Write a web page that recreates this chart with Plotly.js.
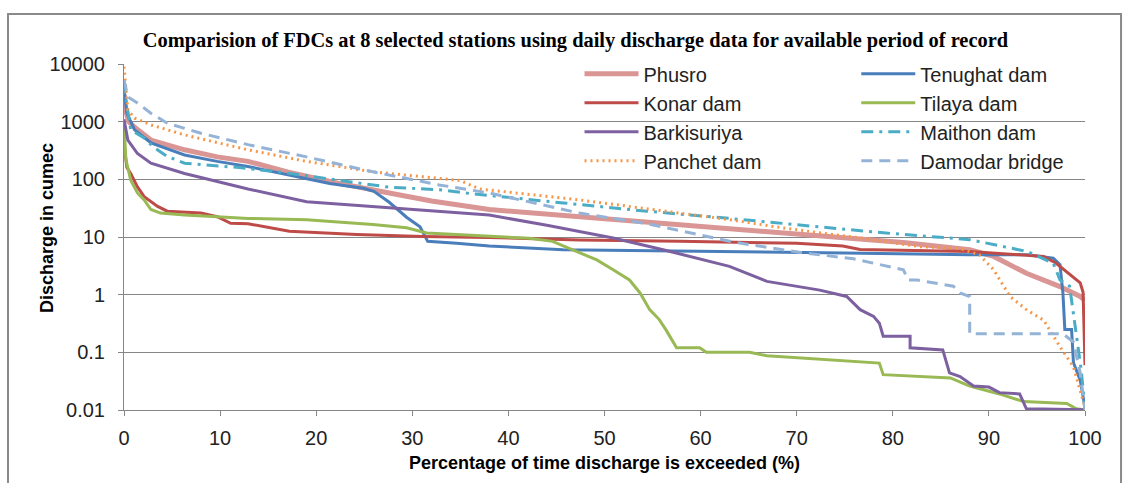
<!DOCTYPE html>
<html>
<head>
<meta charset="utf-8">
<script src="https://cdn.plot.ly/plotly-3.0.1.min.js"></script>
<style>html,body{margin:0;padding:0;background:#fff;}#chart{width:1135px;height:483px;}</style>
</head>
<body>
<div id="chart"></div>
<script>
// Percentage of time exceeded (x) and discharge in cumec (y)
const phusroX = [0, 0.2, 0.5, 1.1, 2.8, 6.3, 9.7, 12.9, 17, 22.4, 27.6, 32, 38, 47.4, 56.1, 63, 72.4, 81.1, 88, 90.5, 93.9, 97.4, 99.5, 100];
const phusroY = [3000, 1500, 1000, 800, 480, 325, 245, 205, 135, 85, 58, 42, 30, 22.4, 17.4, 14, 10.3, 8, 6, 4.6, 2.35, 1.38, 0.93, 0.8];

const tenughatX = [0, 0.3, 1.1, 2.8, 6.3, 9.7, 12.9, 16, 19, 21.4, 24.9, 26, 27.6, 29.4, 30.8, 31.4, 31.6, 34.6, 38, 45.7, 55, 63, 75, 88, 94, 96.7, 97.4, 97.7, 97.9, 98.6, 98.8, 99.5, 100];
const tenughatY = [3500, 1400, 720, 430, 265, 205, 167, 130, 104, 85, 70, 62, 40, 22, 15, 10, 8.4, 7.8, 7, 6, 5.8, 5.6, 5.3, 4.9, 4.9, 4.3, 3.3, 1.07, 0.25, 0.25, 0.066, 0.033, 0.011];

const konarX = [0, 0.3, 0.7, 1.4, 2.1, 3.5, 4.5, 8, 9.7, 11.1, 12.9, 17.2, 24.2, 31.1, 38, 47.4, 57.8, 63, 70, 74.8, 76.6, 88, 95.7, 97, 98.8, 99.5, 99.8, 100];
const konarY = [400, 160, 126, 74, 50, 34, 28, 26, 22.5, 17.3, 17, 12.6, 11, 10.2, 9.8, 8.9, 8.4, 8.2, 7.8, 7.0, 6.1, 5.6, 4.6, 3.5, 2.0, 1.6, 1.1, 0.06];

const tilayaX = [0, 0.2, 0.7, 1.4, 2.1, 2.8, 3.8, 6.3, 9.7, 12.9, 19, 25.9, 29.4, 31.5, 34.6, 38, 42.2, 44.6, 47.4, 49.2, 50.9, 52.6, 53.7, 54.7, 55.7, 56.4, 57.5, 59.9, 60.6, 65.1, 66.9, 70.3, 76.6, 78.6, 79, 86, 88, 91.1, 93.6, 98.1, 99.1, 100];
const tilayaY = [900, 220, 97, 58, 44, 30, 26, 24, 22.5, 21, 20, 16.5, 14.5, 11.7, 11, 10.2, 9.5, 8.4, 5.3, 4.0, 2.7, 1.8, 1.07, 0.55, 0.37, 0.245, 0.12, 0.12, 0.1, 0.1, 0.087, 0.08, 0.07, 0.065, 0.041, 0.036, 0.026, 0.019, 0.014, 0.013, 0.0105, 0.01];

const barkisuriyaX = [0, 0.4, 1.4, 2.8, 6.3, 9.7, 12.9, 19, 25.9, 32.8, 38, 44, 50.9, 56.1, 63, 66.9, 72.4, 75.2, 76.6, 78, 78.6, 79, 81.8, 81.8, 85.2, 85.9, 87, 88.4, 90, 91.1, 93.2, 93.9, 100];
const barkisuriyaY = [1100, 480, 280, 190, 126, 91, 68, 41, 34, 28, 24, 16, 9.6, 6, 3.1, 1.7, 1.2, 0.93, 0.55, 0.42, 0.32, 0.19, 0.19, 0.12, 0.11, 0.044, 0.038, 0.026, 0.025, 0.02, 0.019, 0.0105, 0.0101];

const maithonX = [0, 0.2, 0.7, 2.1, 3.1, 4.5, 6.3, 9.7, 12, 16, 20, 24.5, 27.6, 32.8, 36.3, 45.7, 54.4, 63, 72.4, 79.3, 88, 94, 96.7, 97.4, 98.4, 98.9, 99.1, 99.6, 100];
const maithonY = [5000, 2500, 720, 520, 360, 250, 190, 170, 160, 135, 110, 85, 73, 66, 56, 39, 28, 21, 15, 11.7, 9, 5.6, 3.5, 1.8, 1.4, 0.36, 0.17, 0.05, 0.011];

const panchetX = [0, 0.4, 1.1, 2.8, 6.3, 9.7, 12.9, 19, 25.9, 32.8, 35, 37, 47.4, 55, 63, 69, 75.9, 82.8, 87, 89, 90.5, 92.2, 93.9, 95.7, 97.4, 98.8, 100];
const panchetY = [9000, 1600, 1150, 880, 590, 430, 325, 205, 135, 104, 95, 68, 44, 30, 20, 14, 10, 6.8, 6.3, 4.9, 2.7, 0.93, 0.55, 0.36, 0.125, 0.056, 0.011];

const damodarX = [0, 0.4, 1.4, 2.8, 4.5, 8, 12.9, 19, 25.9, 32.8, 38, 47.4, 54.4, 61.3, 63.7, 70.7, 75.9, 81.1, 81.6, 82.5, 86.3, 87, 88, 88, 97.7, 98.8, 99.5, 100];
const damodarY = [5300, 2700, 2100, 1400, 940, 630, 400, 245, 135, 80, 58, 26, 17, 9.6, 8, 5.3, 4.2, 2.7, 1.8, 1.8, 1.4, 1.07, 0.93, 0.21, 0.21, 0.15, 0.044, 0.01];

const yTickVals = [0.01, 0.1, 1, 10, 100, 1000, 10000];
const yTickText = ['0.01', '0.1', '1', '10', '100', '1000', '10000'];
const xTickVals = [0, 10, 20, 30, 40, 50, 60, 70, 80, 90, 100];

const series = [
  {name: 'Phusro', x: phusroX, y: phusroY, color: '#D99694', width: 5, dash: 'solid', legend: 'legend'},
  {name: 'Tenughat dam', x: tenughatX, y: tenughatY, color: '#4A7EBB', width: 3, dash: 'solid', legend: 'legend2'},
  {name: 'Konar dam', x: konarX, y: konarY, color: '#BE4B48', width: 3, dash: 'solid', legend: 'legend'},
  {name: 'Tilaya dam', x: tilayaX, y: tilayaY, color: '#98B954', width: 3, dash: 'solid', legend: 'legend2'},
  {name: 'Barkisuriya', x: barkisuriyaX, y: barkisuriyaY, color: '#7D60A0', width: 3, dash: 'solid', legend: 'legend'},
  {name: 'Maithon dam', x: maithonX, y: maithonY, color: '#4BACC6', width: 3, dash: '12px,6px,3px,6px', legend: 'legend2'},
  {name: 'Panchet dam', x: panchetX, y: panchetY, color: '#F79646', width: 3, dash: '2px,4px', legend: 'legend'},
  {name: 'Damodar bridge', x: damodarX, y: damodarY, color: '#95B3D7', width: 3, dash: '11px,7px', legend: 'legend2'}
];

const traces = series.map(s => ({
  type: 'scatter', mode: 'lines', name: s.name, x: s.x, y: s.y,
  legend: s.legend,
  line: {color: s.color, width: s.width, dash: s.dash}
}));

const axisGray = '#868686';
const legendCommon = {
  orientation: 'v', yanchor: 'top', xanchor: 'left',
  bgcolor: 'rgba(0,0,0,0)', borderwidth: 0,
  font: {family: 'Liberation Sans, Arial, sans-serif', size: 20, color: '#222'},
  itemwidth: 54
};

const layout = {
  width: 1135, height: 483,
  margin: {l: 124, r: 50, t: 64, b: 73},
  paper_bgcolor: '#fff', plot_bgcolor: '#fff',
  showlegend: true,
  title: {
    text: '<b>Comparision of FDCs at 8 selected stations using daily discharge data for available period of record</b>',
    font: {family: 'Liberation Serif, Times New Roman, serif', size: 20.4, color: '#000'},
    xref: 'container', x: 0.507, xanchor: 'center',
    yref: 'container', y: 0.917, yanchor: 'middle'
  },
  xaxis: {
    range: [0, 100], tickvals: xTickVals, ticks: 'outside', ticklen: 5, tickcolor: axisGray,
    ticklabelstandoff: 5,
    showline: true, linecolor: axisGray, linewidth: 1, showgrid: false, zeroline: false,
    tickfont: {family: 'Liberation Sans, Arial, sans-serif', size: 20, color: '#222'},
    title: {text: '<b>Percentage of time discharge is exceeded (%)</b>', standoff: 8,
      font: {family: 'Liberation Sans, Arial, sans-serif', size: 18, color: '#000'}}
  },
  yaxis: {
    type: 'log', range: [-2, 4], tickvals: yTickVals, ticktext: yTickText,
    ticks: 'outside', ticklen: 5, tickcolor: axisGray,
    ticklabelstandoff: 9,
    showline: true, linecolor: axisGray, linewidth: 1,
    showgrid: true, gridcolor: axisGray, gridwidth: 1, zeroline: false,
    tickfont: {family: 'Liberation Sans, Arial, sans-serif', size: 20, color: '#222'}
  },
  annotations: [{
    text: '<b>Discharge in cumec</b>', textangle: -90, showarrow: false,
    xref: 'paper', yref: 'paper', x: -0.0801, y: 0.526, xanchor: 'center', yanchor: 'middle',
    font: {family: 'Liberation Sans, Arial, sans-serif', size: 18, color: '#000'}
  }],
  legend: Object.assign({}, legendCommon, {x: 0.474, y: 1.028}),
  legend2: Object.assign({}, legendCommon, {x: 0.762, y: 1.028}),
  shapes: [{
    type: 'rect', xref: 'paper', yref: 'paper',
    x0: -0.1207, x1: 1.0375, y0: -0.231, y1: 1.1445,
    line: {color: '#8a8a8a', width: 2}, fillcolor: 'rgba(0,0,0,0)', layer: 'below'
  }]
};

Plotly.newPlot('chart', traces, layout, {displayModeBar: false, staticPlot: true});
</script>
</body>
</html>
